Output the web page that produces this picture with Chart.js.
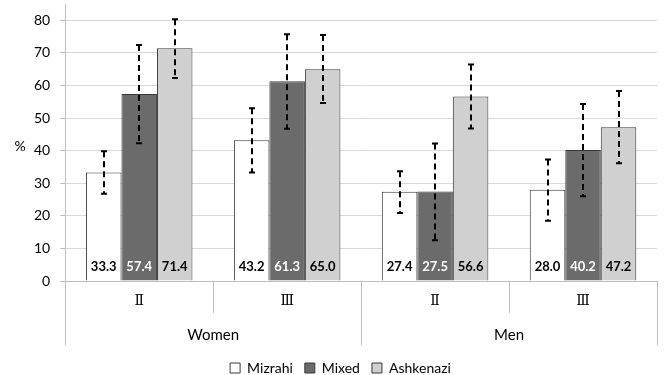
<!DOCTYPE html>
<html>
<head>
<meta charset="utf-8">
<script src="https://cdn.jsdelivr.net/npm/chart.js@4.4.1/dist/chart.umd.min.js"></script>
<style>
  html, body { margin: 0; padding: 0; background: #fff; }
  #wrap { width: 666px; height: 375px; position: relative; }
</style>
</head>
<body>
<div id="wrap"><canvas id="c"></canvas></div>
<script>
// Sub-categories (grade) and their parent groups (sex)
const subLabels = ['Ⅱ', 'Ⅲ', 'Ⅱ', 'Ⅲ'];
const groupLabels = ['Women', 'Men'];

// Y-axis tick values
const yTicks = [0, 10, 20, 30, 40, 50, 60, 70, 80];

// Percentages per origin group
const mizrahi   = [33.3, 43.2, 27.4, 28.0];
const mixed     = [57.4, 61.3, 27.5, 40.2];
const ashkenazi = [71.4, 65.0, 56.6, 47.2];

// Confidence interval bounds
const mizrahiLow    = [26.8, 33.3, 20.9, 18.5];
const mizrahiHigh   = [39.8, 53.0, 33.7, 37.3];
const mixedLow      = [42.3, 46.7, 12.5, 26.0];
const mixedHigh     = [72.4, 75.7, 42.2, 54.3];
const ashkenaziLow  = [62.3, 54.6, 46.8, 36.1];
const ashkenaziHigh = [80.3, 75.5, 66.4, 58.3];

const FONT = 'Lato, "Open Sans", sans-serif';

// Dashed error bars with short caps
const errorBars = {
  id: 'errorBars',
  afterDatasetsDraw(chart) {
    const ctx = chart.ctx;
    const y = chart.scales.y;
    chart.data.datasets.forEach((ds, di) => {
      const meta = chart.getDatasetMeta(di);
      meta.data.forEach((bar, i) => {
        const yl = y.getPixelForValue(ds.low[i]);
        const yh = y.getPixelForValue(ds.high[i]);
        const x = Math.round(bar.x);
        ctx.save();
        ctx.strokeStyle = '#000';
        ctx.lineWidth = 2;
        ctx.setLineDash([6, 4]);
        ctx.beginPath();
        ctx.moveTo(x, yh);
        ctx.lineTo(x, yl);
        ctx.stroke();
        ctx.setLineDash([]);
        ctx.beginPath();
        ctx.moveTo(x - 3, yh); ctx.lineTo(x + 3, yh);
        ctx.moveTo(x - 3, yl); ctx.lineTo(x + 3, yl);
        ctx.stroke();
        ctx.restore();
      });
    });
  }
};

// Value labels at the base of each bar, plus the unit label on the left
const valueLabels = {
  id: 'valueLabels',
  afterDatasetsDraw(chart) {
    const ctx = chart.ctx;
    const y0 = chart.scales.y.getPixelForValue(0);
    ctx.save();
    ctx.font = 'bold 13px ' + FONT;
    ctx.textAlign = 'center';
    ctx.textBaseline = 'middle';
    chart.data.datasets.forEach((ds, di) => {
      const meta = chart.getDatasetMeta(di);
      meta.data.forEach((bar, i) => {
        ctx.fillStyle = ds.labelColor;
        ctx.fillText(ds.data[i].toFixed(1), bar.x, y0 - 14);
      });
    });
    ctx.font = '14px ' + FONT;
    ctx.fillStyle = '#000';
    ctx.fillText('%', 20, 146);
    ctx.restore();
  }
};

new Chart(document.getElementById('c'), {
  type: 'bar',
  data: {
    labels: subLabels,
    datasets: [
      { label: 'Mizrahi', data: mizrahi, low: mizrahiLow, high: mizrahiHigh,
        backgroundColor: '#ffffff', borderColor: '#3a3a3a', borderWidth: 1, labelColor: '#000' },
      { label: 'Mixed', data: mixed, low: mixedLow, high: mixedHigh,
        backgroundColor: '#6b6b6b', borderColor: '#3a3a3a', borderWidth: 1, labelColor: '#fff' },
      { label: 'Ashkenazi', data: ashkenazi, low: ashkenaziLow, high: ashkenaziHigh,
        backgroundColor: '#d0d0d0', borderColor: '#3a3a3a', borderWidth: 1, labelColor: '#000' }
    ]
  },
  options: {
    responsive: true,
    maintainAspectRatio: false,
    animation: false,
    layout: { padding: { left: 24, right: 9, top: 4, bottom: -10 } },
    datasets: { bar: { categoryPercentage: 0.72, barPercentage: 1.0 } },
    plugins: {
      tooltip: { enabled: false },
      legend: {
        position: 'bottom',
        labels: {
          font: { family: FONT, size: 14 },
          color: '#000',
          boxWidth: 10,
          boxHeight: 10,
          padding: 12
        }
      }
    },
    scales: {
      x: {
        type: 'category',
        offset: true,
        grid: { offset: true, drawOnChartArea: false, tickLength: 32, color: '#bfbfbf' },
        border: { color: '#bfbfbf' },
        ticks: {
          font: { family: '"DejaVu Serif", serif', size: 14 },
          color: '#000', padding: -20, maxRotation: 0, autoSkip: false
        },
        afterFit(s) { s.height = 32; }
      },
      x2: {
        type: 'category',
        labels: groupLabels,
        offset: true,
        position: 'bottom',
        grid: { offset: true, drawOnChartArea: false, tickLength: 32, color: '#bfbfbf' },
        border: { display: false },
        ticks: {
          font: { family: FONT, size: 15 },
          color: '#000', padding: -19, maxRotation: 0, autoSkip: false
        },
        afterFit(s) { s.height = 36; }
      },
      y: {
        min: 0,
        max: 85,
        afterBuildTicks(axis) { axis.ticks = yTicks.map(v => ({ value: v })); },
        afterFit(s) { s.paddingTop = 0; s.paddingBottom = 0; },
        ticks: { font: { family: FONT, size: 14 }, color: '#000', padding: 10 },
        grid: { color: '#d9d9d9', tickLength: 5, tickColor: '#bfbfbf' },
        border: { color: '#bfbfbf' }
      }
    }
  },
  plugins: [errorBars, valueLabels]
});
</script>
</body>
</html>
